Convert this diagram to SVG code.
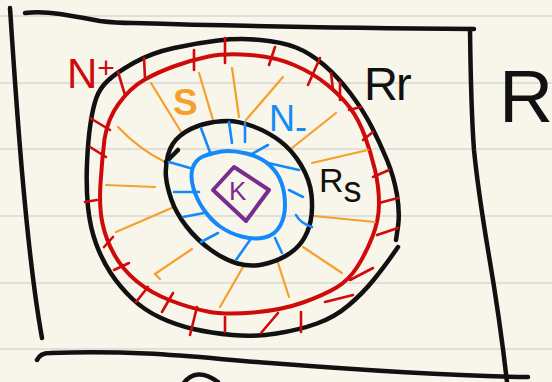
<svg xmlns="http://www.w3.org/2000/svg" width="552" height="382" viewBox="0 0 552 382">
<style>
.k{fill:none;stroke:#111;stroke-width:4.5;stroke-linecap:round;stroke-linejoin:round}
.red{fill:none;stroke:#cf0a0a;stroke-width:4;stroke-linecap:round;stroke-linejoin:round}
.rt{fill:none;stroke:#cf0a0a;stroke-width:2.6;stroke-linecap:round}
.or{fill:none;stroke:#f5a02c;stroke-width:2.2;stroke-linecap:round}
.bl{fill:none;stroke:#1489fa;stroke-width:4;stroke-linecap:round;stroke-linejoin:round}
.bt{fill:none;stroke:#1489fa;stroke-width:2.6;stroke-linecap:round}
.pu{fill:none;stroke:#7b2a91;stroke-width:4;stroke-linecap:round;stroke-linejoin:round}
.t{font-family:"Liberation Sans","DejaVu Sans",sans-serif}
</style>
<rect width="552" height="382" fill="#f8f6ea"/>
<g stroke="#d9d9d5" stroke-width="1.5">
<line x1="0" y1="16" x2="552" y2="16"/>
<line x1="0" y1="83" x2="552" y2="83"/>
<line x1="0" y1="149" x2="552" y2="149"/>
<line x1="0" y1="216" x2="552" y2="216"/>
<line x1="0" y1="283" x2="552" y2="283"/>
<line x1="0" y1="349" x2="552" y2="349"/>
</g>
<g id="frame-R">
<path class="k" d="M25,13 Q40,11 60,14 Q85,18 100,21 Q115,23 133,23 C200,25 350,28 474,29"/>
<path class="k" d="M10,8 C16,100 26,250 42,338"/>
<path class="k" d="M470,29 Q471,110 474,150 Q478,190 488,250 Q500,320 507,382"/>
<path class="k" d="M37,360 Q40,353 50,353 C150,350 200,358 270,363 C360,370 450,376 528,377"/>
<path class="k" d="M183,384 Q196,366 218,382"/>
<text class="t" x="499" y="122" font-size="75" fill="#111">R</text>
</g>
<g id="region-Rr">
<path class="k" d="M396,240 L398,226.5 Q400,213 397,195 Q394,177 387,160 Q380,143 371.5,126.5 Q363,110 350.5,93.5 Q338,77 324,65 Q310,53 296,47.5 Q282,42 260.5,40 Q239,38 218,40.5 Q197,43 174,48 Q151,53 133.5,63 Q116,73 108,80.5 Q100,88 96.5,97.5 Q93,107 90.5,123.5 Q88,140 87,163.5 Q86,187 88,207 Q90,227 96,243.5 Q102,260 111,273.5 Q120,287 132,298.5 Q144,310 160,317.5 Q176,325 193.5,329 Q211,333 232.5,335 Q254,337 276.5,333.5 Q299,330 317,323.5 Q335,317 349,305 Q363,293 373.5,280 Q384,267 391,257 L398,247"/>
<text class="t" x="364" y="100" font-size="47" letter-spacing="-2" fill="#111">Rr</text>
</g>
<g id="region-Nplus">
<path class="red" d="M250,55 Q275,57 294,65 Q313,73 327.5,85 Q342,97 350.5,108.5 Q359,120 365,136.5 Q371,153 375,170 Q379,187 379,203.5 Q379,220 372.5,236.5 Q366,253 357.5,266.5 Q349,280 336.5,287.5 Q324,295 303,302.5 Q282,310 253.5,312.5 Q225,315 207.5,311.5 Q190,308 170.5,300.5 Q151,293 137,281.5 Q123,270 114.5,255 Q106,240 102.5,223.5 Q99,207 100.5,183.5 Q102,160 104.5,139 Q108,118 118.5,104 Q130,88 144,80 Q158,72 175,66 Q192,60 208.5,56.5 Q225,53 250,55 Z"/>
<g>
<line class="rt" x1="118" y1="72" x2="125" y2="95"/>
<line class="rt" x1="144" y1="58" x2="145" y2="78"/>
<line class="rt" x1="194" y1="50" x2="194" y2="70"/>
<line class="rt" x1="225" y1="38" x2="225" y2="63"/>
<line class="rt" x1="275" y1="47" x2="269" y2="65"/>
<line class="rt" x1="320" y1="58" x2="308" y2="85"/>
<line class="rt" x1="331" y1="73" x2="333" y2="90"/>
<line class="rt" x1="340" y1="82" x2="340" y2="100"/>
<line class="rt" x1="349" y1="110" x2="361" y2="107"/>
<line class="rt" x1="363" y1="140" x2="373" y2="132"/>
<line class="rt" x1="373" y1="177" x2="389" y2="170"/>
<line class="rt" x1="379" y1="203" x2="398" y2="198"/>
<line class="rt" x1="377" y1="235" x2="398" y2="228"/>
<line class="rt" x1="350" y1="280" x2="373" y2="268"/>
<line class="rt" x1="325" y1="302" x2="353" y2="295"/>
<line class="rt" x1="301" y1="312" x2="301" y2="332"/>
<line class="rt" x1="278" y1="313" x2="261" y2="333"/>
<line class="rt" x1="225" y1="317" x2="225" y2="332"/>
<line class="rt" x1="197" y1="307" x2="190" y2="335"/>
<line class="rt" x1="173" y1="293" x2="162" y2="312"/>
<line class="rt" x1="148" y1="287" x2="136" y2="302"/>
<line class="rt" x1="129" y1="263" x2="114" y2="270"/>
<line class="rt" x1="113" y1="237" x2="104" y2="247"/>
<line class="rt" x1="97" y1="200" x2="85" y2="202"/>
<line class="rt" x1="106" y1="157" x2="90" y2="147"/>
<line class="rt" x1="110" y1="130" x2="90" y2="118"/>
</g>
<text class="t" x="67" y="88" font-size="42" fill="#cf0a0a">N<tspan font-size="30" dy="-10">+</tspan></text>
</g>
<g id="region-S">
<line class="or" x1="183" y1="135" x2="151" y2="83"/>
<line class="or" x1="213" y1="120" x2="199" y2="73"/>
<line class="or" x1="239" y1="117" x2="232" y2="68"/>
<line class="or" x1="246" y1="120" x2="283" y2="77"/>
<line class="or" x1="292" y1="148" x2="336" y2="113"/>
<line class="or" x1="312" y1="163" x2="368" y2="150"/>
<line class="or" x1="314" y1="216" x2="375" y2="222"/>
<line class="or" x1="303" y1="247" x2="342" y2="273"/>
<line class="or" x1="278" y1="263" x2="289" y2="297"/>
<line class="or" x1="243" y1="267" x2="220" y2="307"/>
<path class="or" d="M192,249 L155,274 L160,279"/>
<line class="or" x1="174" y1="207" x2="116" y2="232"/>
<line class="or" x1="155" y1="187" x2="106" y2="185"/>
<path class="or" d="M165,162 Q140,150 118,127"/>
<text class="t" x="173" y="115" font-size="37" font-weight="bold" fill="#f5a02c">S</text>
</g>
<g id="region-Rs">
<path class="k" d="M227,121 Q239,121 253.5,126.5 Q268,132 280,141 Q292,150 301,165 Q310,180 311.5,195 Q313,210 310.5,221.5 Q308,233 302,241.5 Q296,250 285.5,256 Q275,262 262.5,264.5 Q250,267 237.5,263.5 Q225,260 211,250 Q197,240 186.5,226.5 Q176,213 171.5,200 Q167,187 166,177 Q165,167 168,155 Q171,143 180.5,135.5 Q190,128 202.5,124.5 Q215,121 227,121 Z"/>
<path class="k" d="M166,162 L178,150" stroke-width="3"/>
<text class="t" x="319" y="192" font-size="34" fill="#111">R<tspan font-size="36" dy="10">s</tspan></text>
</g>
<g id="region-Nminus">
<path class="bl" d="M221.5,151.5 Q232,150 246.5,153.5 Q261,157 269.5,165 Q278,173 281.5,183 Q285,193 285,205 Q285,217 280,226 Q275,235 264.5,237.5 Q254,240 241.5,236.5 Q229,233 220,226.5 Q211,220 204,210 Q197,200 193.5,188.5 Q190,177 192.5,168.5 Q195,160 203,156.5 Q211,153 221.5,151.5 Z"/>
<line class="bt" x1="201" y1="128" x2="211" y2="155"/>
<line class="bt" x1="229" y1="122" x2="232" y2="143"/>
<line class="bt" x1="245" y1="123" x2="245" y2="142"/>
<line class="bt" x1="250" y1="155" x2="268" y2="145"/>
<line class="bt" x1="268" y1="163" x2="299" y2="170"/>
<line class="bt" x1="289" y1="190" x2="303" y2="197"/>
<path class="bt" d="M296,215 Q300,223 312,227"/>
<line class="bt" x1="275" y1="238" x2="282" y2="253"/>
<line class="bt" x1="250" y1="240" x2="236" y2="260"/>
<line class="bt" x1="218" y1="233" x2="201" y2="242"/>
<line class="bt" x1="204" y1="213" x2="183" y2="217"/>
<line class="bt" x1="199" y1="192" x2="174" y2="192"/>
<line class="bt" x1="190" y1="168" x2="169" y2="162"/>
<text class="t" x="269" y="131" font-size="36" fill="#1489fa">N<tspan dy="8">-</tspan></text>
</g>
<g id="node-K">
<path class="pu" d="M213,190 L234,167 L269,190 L246,221 Z"/>
<text class="t" x="229" y="200" font-size="26" fill="#7b2a91">K</text>
</g>
</svg>
